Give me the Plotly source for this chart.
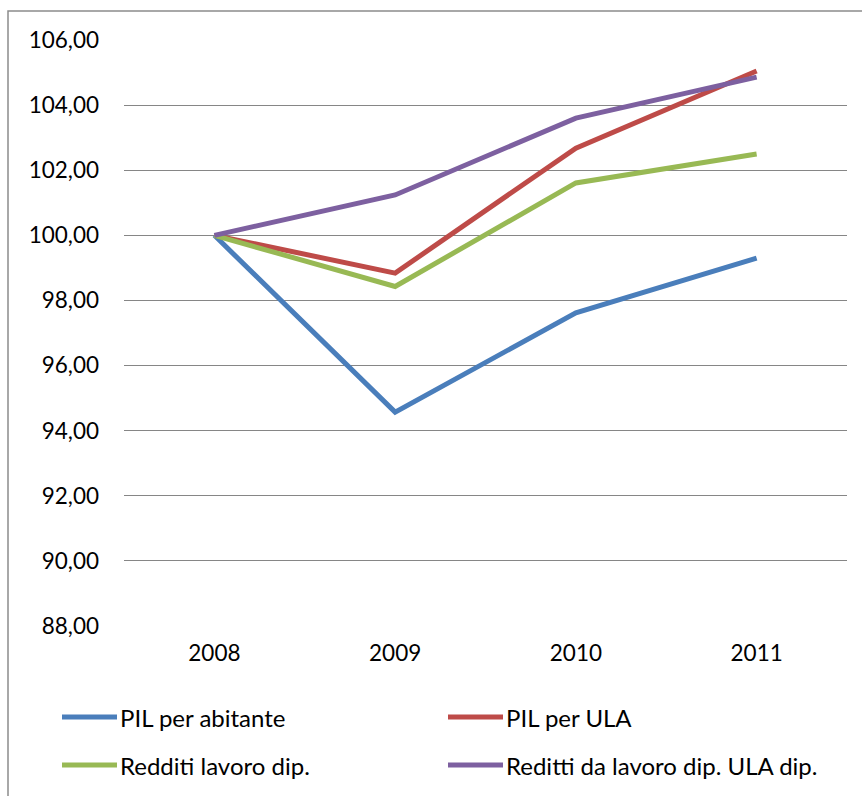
import plotly.graph_objects as go

years = ["2008", "2009", "2010", "2011"]
series_names = ["PIL per abitante", "PIL per ULA", "Redditi lavoro dip.", "Reditti da lavoro dip. ULA dip."]
pil_abitante = [100.00, 94.57, 97.62, 99.30]
pil_ula = [100.00, 98.84, 102.68, 105.05]
redditi_lavoro = [100.00, 98.43, 101.61, 102.50]
reditti_ula = [100.00, 101.24, 103.60, 104.86]
colors = ["#4A7EBB", "#BE4B48", "#98B954", "#7D60A0"]
y_ticks = [88, 90, 92, 94, 96, 98, 100, 102, 104, 106]
y_tick_labels = ["88,00", "90,00", "92,00", "94,00", "96,00", "98,00", "100,00", "102,00", "104,00", "106,00"]

FONT = "Lato"
FS = 22.5
FS_LEG = 24
W, H = 862, 796
L, R, T, B = 124, 15, 40, 170
pw, ph = W - L - R, H - T - B

def px_x(x):
    return (x - L) / pw

def px_y(y):
    return (H - B - y) / ph

fig = go.Figure()
all_series = [pil_abitante, pil_ula, redditi_lavoro, reditti_ula]
for name, vals, c in zip(series_names, all_series, colors):
    fig.add_trace(go.Scatter(x=years, y=vals, mode="lines", name=name,
                             line=dict(color=c, width=5), showlegend=False))

shapes = []
annotations = []
# outer frame
shapes.append(dict(type="rect", xref="paper", yref="paper",
                   x0=px_x(8), x1=px_x(880), y0=px_y(11), y1=px_y(820),
                   line=dict(color="#8C8C8C", width=1.5), fillcolor="rgba(0,0,0,0)", layer="below"))
# manual legend
leg_pos = [(62, 717), (448, 717), (62, 765), (448, 765)]
for (lx, ly), name, c in zip(leg_pos, series_names, colors):
    shapes.append(dict(type="line", xref="paper", yref="paper",
                       x0=px_x(lx), x1=px_x(lx + 55), y0=px_y(ly), y1=px_y(ly),
                       line=dict(color=c, width=5)))
    annotations.append(dict(xref="paper", yref="paper", x=px_x(lx + 56), y=px_y(ly),
                            text=name, showarrow=False, xanchor="left", yanchor="middle",
                            font=dict(family=FONT, size=FS_LEG, color="#000000")))

fig.update_layout(
    width=W, height=H,
    margin=dict(l=L, r=R, t=T, b=B, pad=0),
    paper_bgcolor="white", plot_bgcolor="white",
    font=dict(family=FONT, size=FS, color="#000000"),
    shapes=shapes, annotations=annotations,
    xaxis=dict(type="category", range=[-0.5, 3.5], showgrid=False, zeroline=False,
               showline=False, ticks="", ticklabelstandoff=11,
               tickfont=dict(family=FONT, size=FS)),
    yaxis=dict(range=[88, 106], tickvals=y_ticks, ticktext=y_tick_labels,
               showgrid=True, gridcolor="#868686", gridwidth=1.2, zeroline=False,
               showline=False, ticks="", ticklabelstandoff=24,
               tickfont=dict(family=FONT, size=FS)),
    showlegend=False,
)

fig.write_html("out.html")
